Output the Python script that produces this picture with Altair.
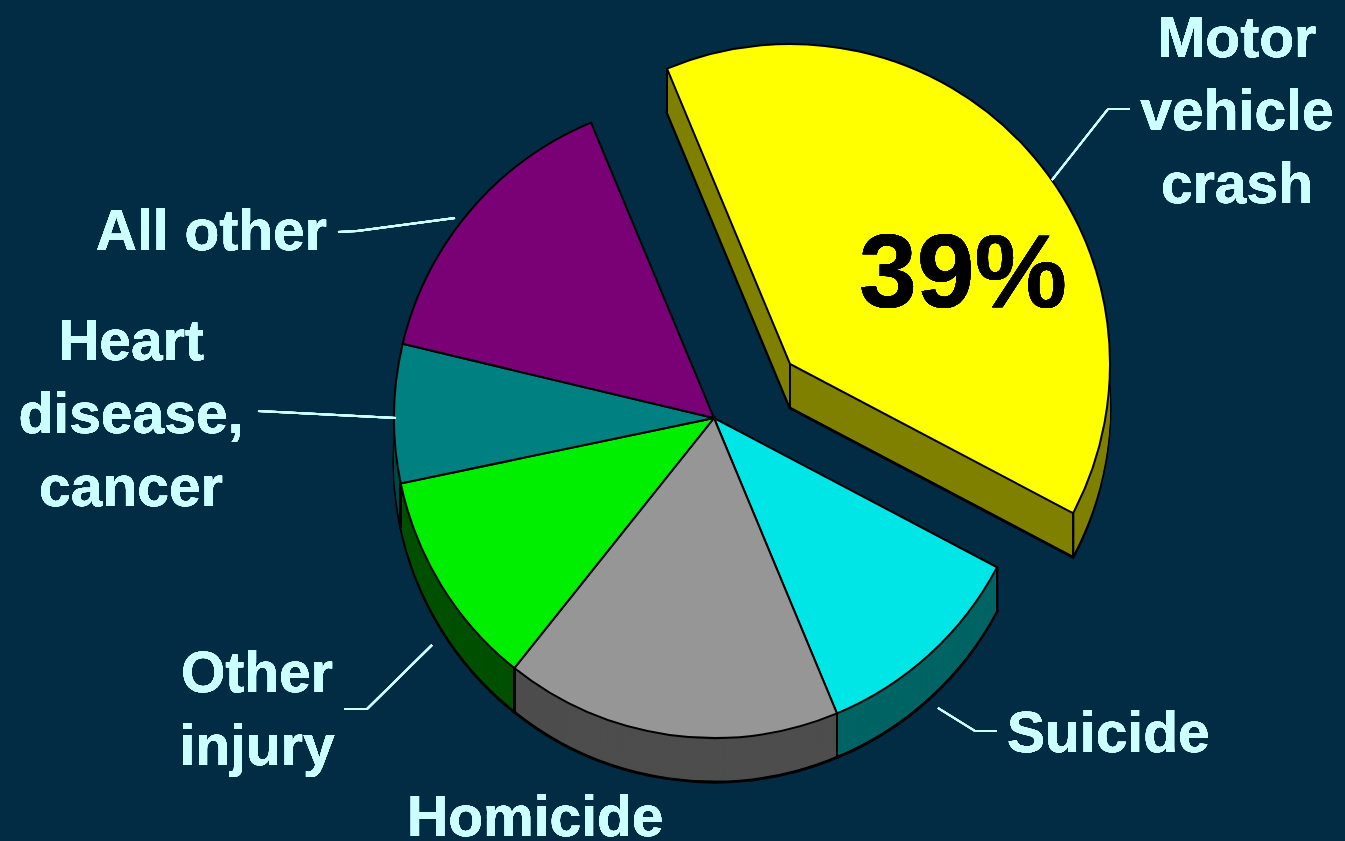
import math
import altair as alt
import pandas as pd

# ---------------- data ----------------
categories = ["Suicide", "Homicide", "Other injury", "Heart disease, cancer",
              "All other", "Motor vehicle crash"]
values = [11, 17, 11, 7, 15, 39]
label_lines = [["Suicide"], ["Homicide"], ["Other", "injury"],
               ["Heart", "disease,", "cancer"], ["All other"],
               ["Motor", "vehicle", "crash"]]
exploded = "Motor vehicle crash"

# ---------------- styles / layout ----------------
BG = "#022C44"
TXT = "#CCFFFF"
FONT = "Liberation Sans"
top_colors = {
    "Suicide": "#00E6E6", "Homicide": "#969696", "Other injury": "#00EE00",
    "Heart disease, cancer": "#008080", "All other": "#7A0076",
    "Motor vehicle crash": "#FFFF00",
}
side_colors = {
    "Suicide": "#006464", "Homicide": "#4D4D4D", "Other injury": "#005000",
    "Heart disease, cancer": "#004848", "All other": "#400040",
    "Motor vehicle crash": "#808000",
}
CX, CY, R, DEPTH = 714, 418, 320, 44
EXPLODE = (76, -54)
START_ANGLE = math.radians(117.8)

label_layout = {  # x, y (first-line baseline), align
    "Motor vehicle crash": (1237, 57, "center"),
    "All other": (327, 250, "right"),
    "Heart disease, cancer": (131, 360, "center"),
    "Other injury": (257, 692, "center"),
    "Suicide": (1007, 752, "left"),
    "Homicide": (407, 836, "left"),
}
leaders = [
    [(1052, 180), (1108, 109), (1130, 109)],
    [(338, 232), (357, 231), (455, 218)],
    [(258, 411), (396, 418)],
    [(344, 709), (367, 709), (432, 645)],
    [(938, 708), (975, 731), (997, 731)],
]

# ---------------- table ----------------
total = sum(values)
ends, acc = [], 0
for v in values:
    acc += v
    ends.append(acc)
starts = [e - v for e, v in zip(ends, values)]
df = pd.DataFrame({
    "cat": categories, "value": values, "start": starts, "end": ends,
    "top": [top_colors[c] for c in categories],
    "side": [side_colors[c] for c in categories],
})
main_df = df[df["cat"] != exploded]
exp_df = df[df["cat"] == exploded]

theta_scale = alt.Scale(domain=[0, total],
                        range=[START_ANGLE, START_ANGLE + 2 * math.pi])


def angle_of(v):
    return START_ANGLE + 2 * math.pi * v / total


def rim_point(cx, cy, v):
    a = angle_of(v)
    return cx + R * math.sin(a), cy - R * math.cos(a)


def arcs(data, cx, cy, color_field, outline, width=2):
    kw = dict(outerRadius=R)
    if outline:
        kw.update(stroke="black", strokeWidth=width)
    else:
        kw.update(strokeWidth=0)
    return alt.Chart(data).mark_arc(**kw).encode(
        theta=alt.Theta("start:Q", scale=theta_scale),
        theta2="end:Q",
        color=alt.Color(f"{color_field}:N", scale=None),
        x=alt.value(cx), y=alt.value(cy),
    )


def vrule(x, y):
    return alt.Chart(df).mark_rule(color="black", strokeWidth=2).encode(
        x=alt.value(x), y=alt.value(y), y2=alt.value(y + DEPTH))


def pie_block(data, cx, cy, edge_points):
    layers = [arcs(data, cx, cy + DEPTH, "side", True, 3)]
    for d in range(DEPTH - 2, 0, -2):
        layers.append(arcs(data, cx, cy + d, "side", False))
    for (x, y) in edge_points:
        layers.append(vrule(x, y))
    layers.append(arcs(data, cx, cy, "top", True))
    return layers


# visible vertical edges of the main pie (boundaries on the front rim)
main_edges = []
for s in main_df["start"].tolist() + [main_df["end"].max()]:
    a = angle_of(s) % (2 * math.pi)
    if math.pi / 2 < a < 3 * math.pi / 2 + 0.2:
        main_edges.append(rim_point(CX, CY, s))

ecx, ecy = CX + EXPLODE[0], CY + EXPLODE[1]
es, ee = float(exp_df["start"].iloc[0]), float(exp_df["end"].iloc[0])
exp_edges = [(ecx, ecy), rim_point(ecx, ecy, es), rim_point(ecx, ecy, ee)]

layers = []
layers += pie_block(main_df, CX, CY, main_edges)
layers += pie_block(exp_df, ecx, ecy, exp_edges)

# leader lines
for pts in leaders:
    for (x1, y1), (x2, y2) in zip(pts[:-1], pts[1:]):
        layers.append(alt.Chart(df).mark_rule(color=TXT, strokeWidth=2).encode(
            x=alt.value(x1), y=alt.value(y1), x2=alt.value(x2), y2=alt.value(y2)))

# category labels
for cat, lines in zip(categories, label_lines):
    x, y, align = label_layout[cat]
    layers.append(alt.Chart(df).mark_text(
        font=FONT, fontWeight="bold", fontSize=57, lineHeight=73,
        color=TXT, align=align, baseline="alphabetic",
    ).encode(x=alt.value(x), y=alt.value(y),
             text=alt.value(lines if len(lines) > 1 else lines[0])))

# big percentage on the exploded slice
big = f"{values[categories.index(exploded)]}%"
layers.append(alt.Chart(df).mark_text(
    font=FONT, fontWeight="bold", fontSize=104, color="black",
    align="center", baseline="alphabetic",
).encode(x=alt.value(963), y=alt.value(307), text=alt.value(big)))

chart = alt.layer(*layers).properties(
    width=1345, height=841, padding=0,
    autosize=alt.AutoSizeParams(type="none"),
    background=BG,
).configure_view(stroke=None)

chart.save("out.html", embed_options={"renderer": "svg", "actions": False})
